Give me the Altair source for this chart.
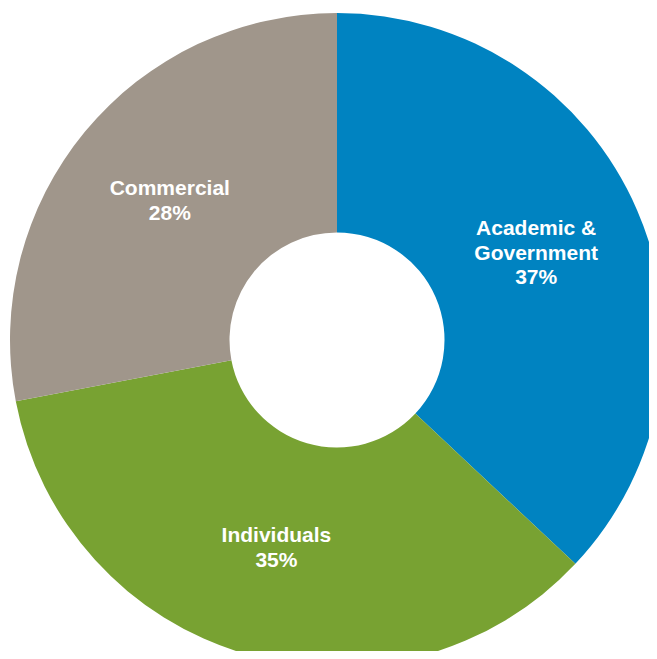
import altair as alt
import pandas as pd

categories = ["Academic & Government", "Individuals", "Commercial"]
labels = ["Academic &\nGovernment\n37%", "Individuals\n35%", "Commercial\n28%"]
shares = [37, 35, 28]
colors = ["#0083C1", "#78A232", "#A0968B"]

df = pd.DataFrame({
    "category": categories,
    "label": labels,
    "share": shares,
    "order": list(range(len(categories))),
    "nlines": [lab.count("\n") + 1 for lab in labels],
})

cx, cy = 329, 332
line_h = 24.5
theta_scale = alt.Scale(domain=[0, 100])

base = alt.Chart(df).transform_window(
    end="sum(share)", sort=[alt.SortField("order")],
    frame=[None, 0],
).transform_calculate(
    start="datum.end - datum.share",
    mid="datum.end - datum.share / 2",
)

arcs = base.mark_arc(radius=327, innerRadius=107.5, stroke=None).encode(
    theta=alt.Theta("start:Q", scale=theta_scale, stack=None),
    theta2="end:Q",
    color=alt.Color("category:N",
                    scale=alt.Scale(domain=categories, range=colors),
                    legend=None),
    x=alt.value(cx),
    y=alt.value(cy),
)

def text_layer(n):
    return base.mark_text(
        radius=217, font="Liberation Sans", fontWeight="bold", fontSize=21,
        color="white", lineBreak="\n", lineHeight=line_h, align="center",
        baseline="middle", dy=-(n - 1) / 2 * line_h,
    ).encode(
        theta=alt.Theta("mid:Q", scale=theta_scale, stack=None),
        text="label:N",
        x=alt.value(cx),
        y=alt.value(cy),
    ).transform_filter(alt.datum.nlines == n)

chart = alt.layer(arcs, text_layer(2), text_layer(3)).properties(
    width=641, height=643, padding=0, autosize="none"
).configure_view(stroke=None)

chart.save("out.html", embed_options={"renderer": "svg", "actions": False})
